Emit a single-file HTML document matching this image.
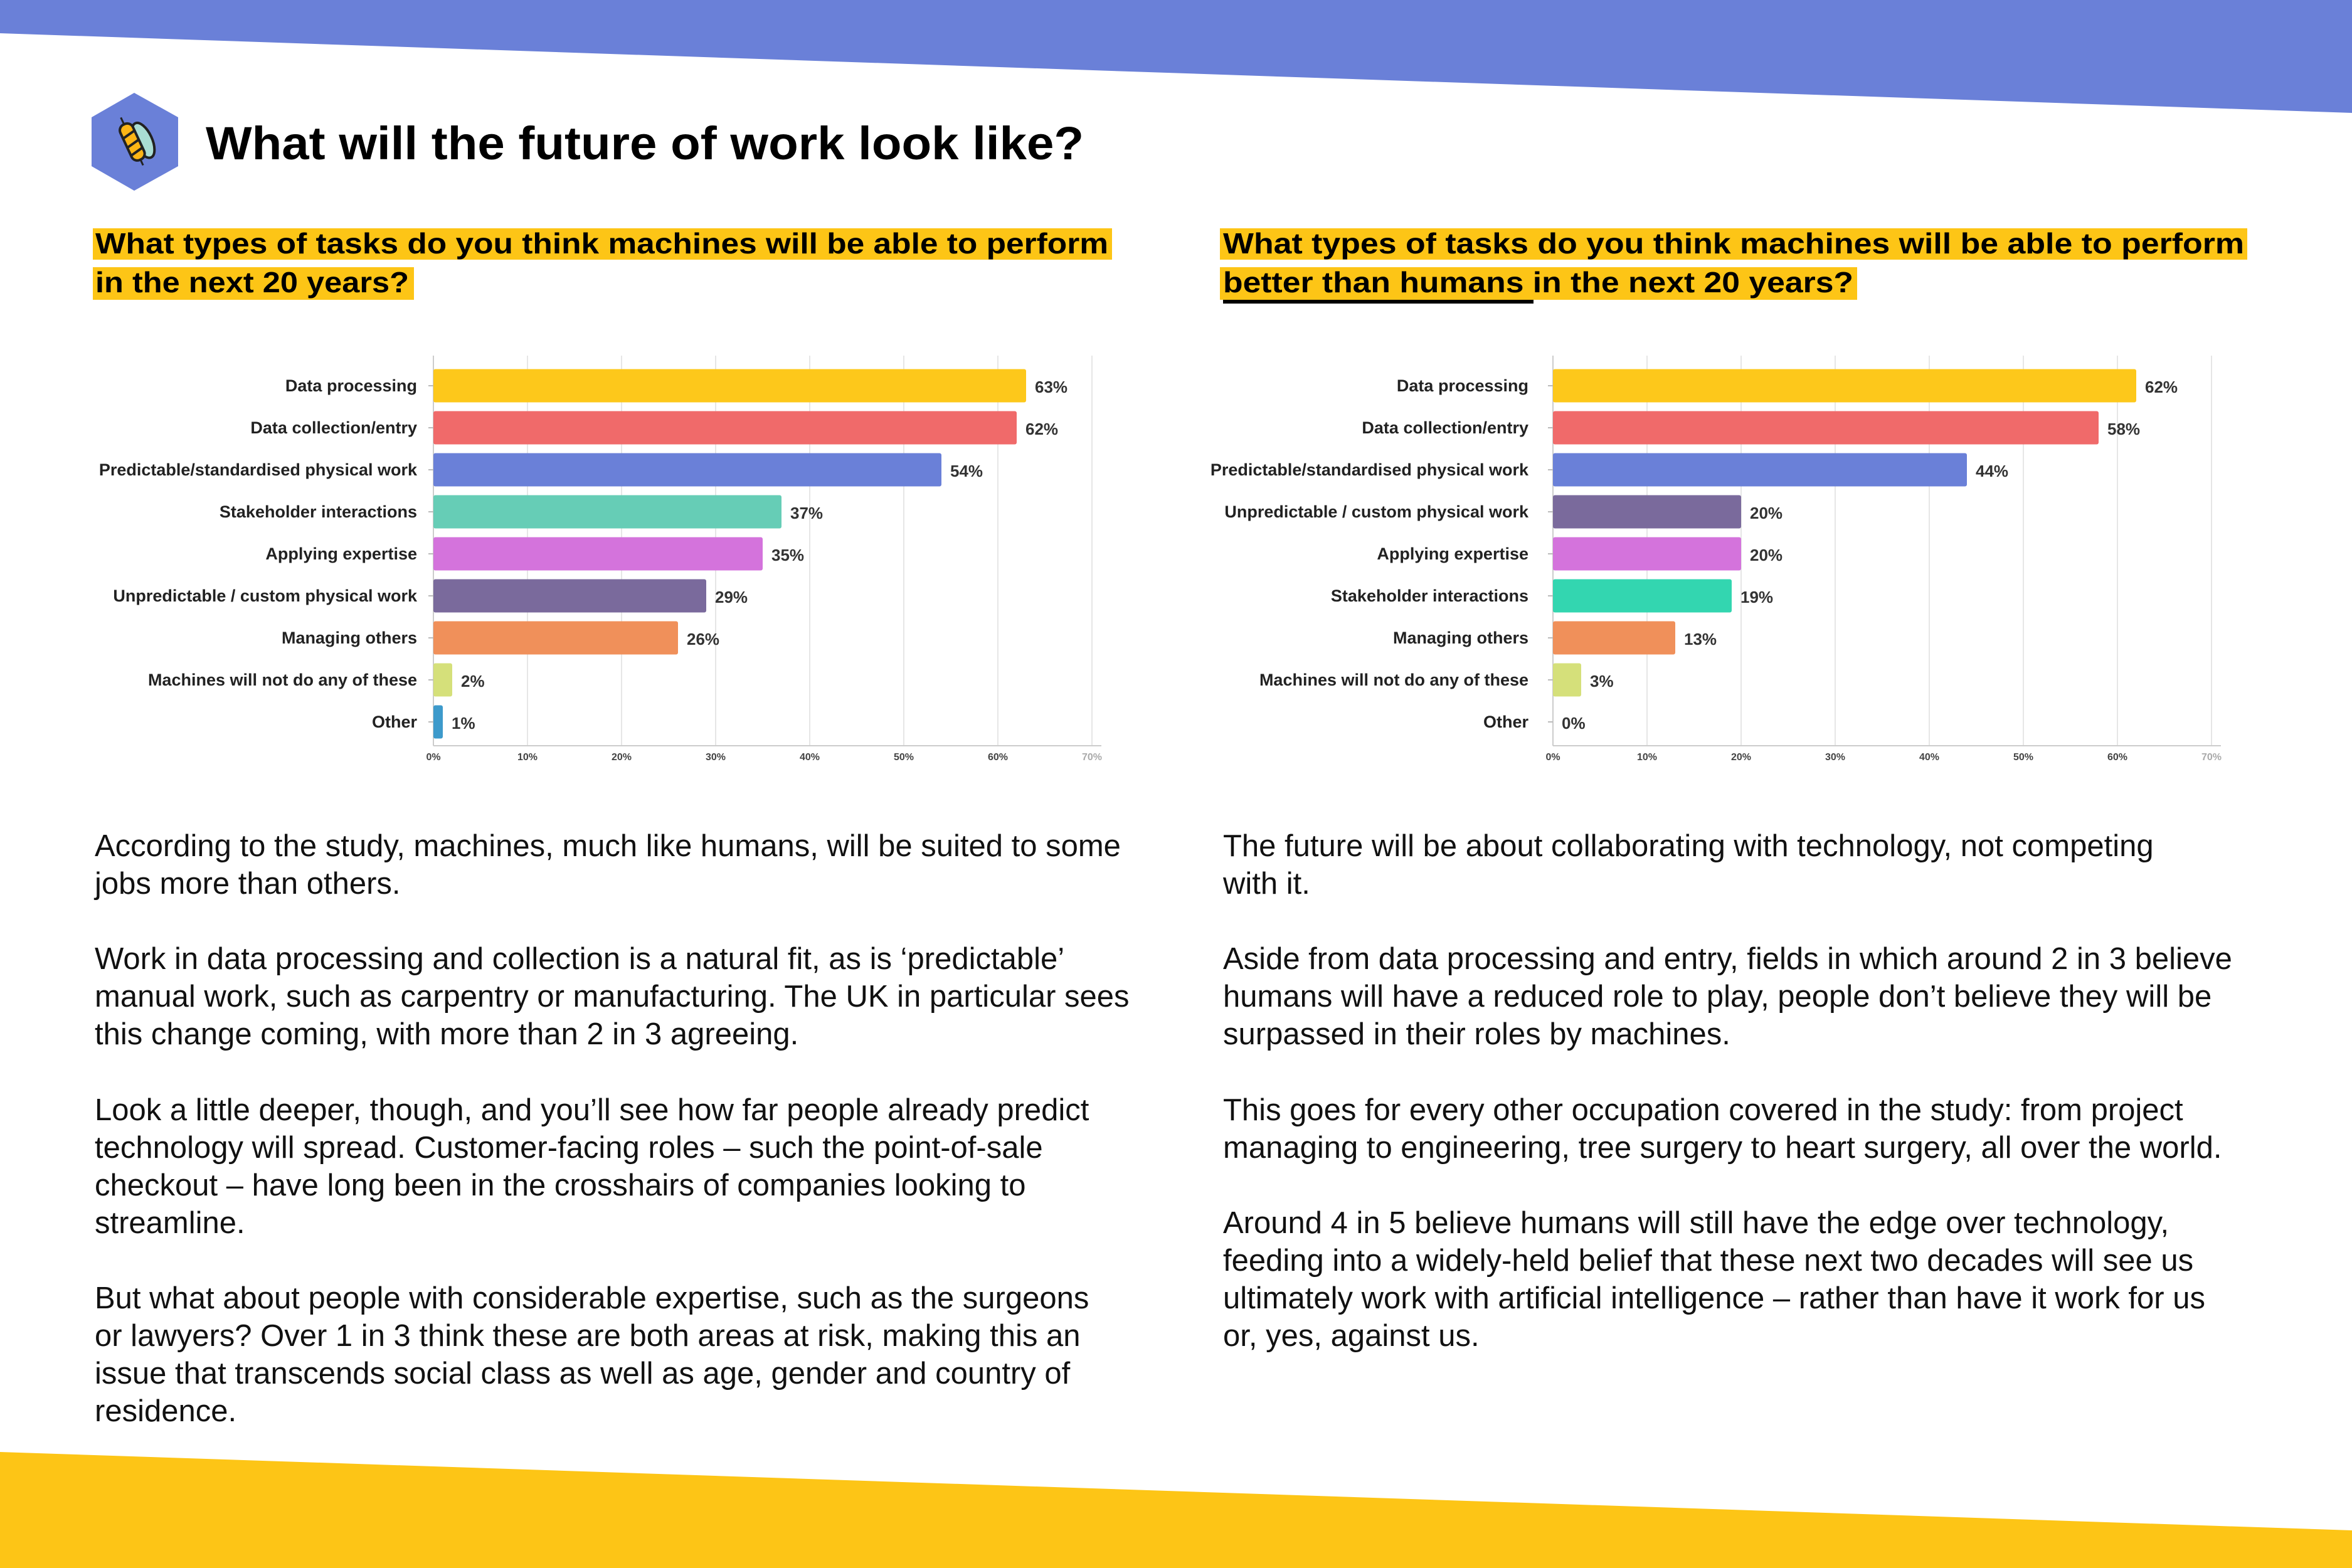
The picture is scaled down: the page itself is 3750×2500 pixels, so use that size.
<!DOCTYPE html>
<html>
<head>
<meta charset="utf-8">
<style>
html,body{margin:0;padding:0;background:#fff;}
svg{display:block;}
text{font-family:"Liberation Sans",sans-serif;}
</style>
</head>
<body>
<svg id="page" width="3750" height="2500" viewBox="0 0 3750 2500" xmlns="http://www.w3.org/2000/svg">
  <polygon points="0,0 3750,0 3750,180 0,53" fill="#6A80D8"/>
  <polygon points="0,2315 3750,2440 3750,2500 0,2500" fill="#FDC516"/>

  <g>
    <polygon points="214,148 284,187 284,265 214,304 146,265 146,187" fill="#6A80D8"/>
    <g transform="translate(214,226) rotate(-25)">
      <ellipse cx="14" cy="4" rx="14" ry="30" fill="#A9DDD3" stroke="#222" stroke-width="4"/>
      <rect x="-14" y="-32" width="22" height="62" rx="10" fill="#FDB515" stroke="#222" stroke-width="4"/>
      <line x1="-14" y1="-12" x2="8" y2="-16" stroke="#222" stroke-width="4"/>
      <line x1="-14" y1="4" x2="8" y2="0" stroke="#222" stroke-width="4"/>
      <line x1="-14" y1="18" x2="8" y2="14" stroke="#222" stroke-width="4"/>
      <line x1="-3" y1="-32" x2="-3" y2="-44" stroke="#222" stroke-width="3"/>
      <line x1="-3" y1="30" x2="-3" y2="40" stroke="#222" stroke-width="3"/>
    </g>
  </g>

  <text x="328" y="254" font-size="74" font-weight="bold" fill="#000" textLength="1400" lengthAdjust="spacingAndGlyphs">What will the future of work look like?</text>

  <g>
    <rect x="148" y="364" width="1625" height="50" fill="#FDC516"/>
    <rect x="148" y="426" width="512" height="52" fill="#FDC516"/>
    <text x="152" y="404" font-size="46" font-weight="bold" textLength="1615" lengthAdjust="spacingAndGlyphs">What types of tasks do you think machines will be able to perform</text>
    <text x="152" y="466" font-size="46" font-weight="bold" textLength="500" lengthAdjust="spacingAndGlyphs">in the next 20 years?</text>
  </g>
  <g>
    <rect x="1945" y="364" width="1638" height="50" fill="#FDC516"/>
    <rect x="1945" y="426" width="1016" height="52" fill="#FDC516"/>
    <text x="1950" y="404" font-size="46" font-weight="bold" textLength="1628" lengthAdjust="spacingAndGlyphs">What types of tasks do you think machines will be able to perform</text>
    <text x="1950" y="466" font-size="46" font-weight="bold" textLength="1005" lengthAdjust="spacingAndGlyphs">better than humans in the next 20 years?</text>
    <rect x="1950" y="478" width="495" height="6" fill="#000"/>
  </g>

  <g id="chartL"></g>
  <g id="chartR"></g>

  <g font-size="49" fill="#111">
    <text x="151" y="1365">According to the study, machines, much like humans, will be suited to some</text>
    <text x="151" y="1425">jobs more than others.</text>
    <text x="151" y="1545">Work in data processing and collection is a natural fit, as is ‘predictable’</text>
    <text x="151" y="1605">manual work, such as carpentry or manufacturing. The UK in particular sees</text>
    <text x="151" y="1665">this change coming, with more than 2 in 3 agreeing.</text>
    <text x="151" y="1786">Look a little deeper, though, and you’ll see how far people already predict</text>
    <text x="151" y="1846">technology will spread. Customer-facing roles – such the point-of-sale</text>
    <text x="151" y="1906">checkout – have long been in the crosshairs of companies looking to</text>
    <text x="151" y="1966">streamline.</text>
    <text x="151" y="2086">But what about people with considerable expertise, such as the surgeons</text>
    <text x="151" y="2146">or lawyers? Over 1 in 3 think these are both areas at risk, making this an</text>
    <text x="151" y="2206">issue that transcends social class as well as age, gender and country of</text>
    <text x="151" y="2266">residence.</text>
  </g>
  <g font-size="49" fill="#111">
    <text x="1950" y="1365">The future will be about collaborating with technology, not competing</text>
    <text x="1950" y="1425">with it.</text>
    <text x="1950" y="1545">Aside from data processing and entry, fields in which around 2 in 3 believe</text>
    <text x="1950" y="1605">humans will have a reduced role to play, people don’t believe they will be</text>
    <text x="1950" y="1665">surpassed in their roles by machines.</text>
    <text x="1950" y="1786">This goes for every other occupation covered in the study: from project</text>
    <text x="1950" y="1846">managing to engineering, tree surgery to heart surgery, all over the world.</text>
    <text x="1950" y="1966">Around 4 in 5 believe humans will still have the edge over technology,</text>
    <text x="1950" y="2026">feeding into a widely-held belief that these next two decades will see us</text>
    <text x="1950" y="2086">ultimately work with artificial intelligence – rather than have it work for us</text>
    <text x="1950" y="2146">or, yes, against us.</text>
  </g>
</svg>
<script>
const leftCategories = ["Data processing","Data collection/entry","Predictable/standardised physical work","Stakeholder interactions","Applying expertise","Unpredictable / custom physical work","Managing others","Machines will not do any of these","Other"];
const leftValues = [63,62,54,37,35,29,26,2,1];
const leftColors = ["#FDC81B","#F06A6A","#6A80D8","#66CDB6","#D473DC","#7A6A9C","#F0905A","#D5E07A","#3D9ACB"];
const rightCategories = ["Data processing","Data collection/entry","Predictable/standardised physical work","Unpredictable / custom physical work","Applying expertise","Stakeholder interactions","Managing others","Machines will not do any of these","Other"];
const rightValues = [62,58,44,20,20,19,13,3,0];
const rightColors = ["#FDC81B","#F06A6A","#6A80D8","#7A6A9C","#D473DC","#33D6B0","#F0905A","#D5E07A","#3D9ACB"];
const tickValues = [0,10,20,30,40,50,60,70];
const tickLabels = ["0%","10%","20%","30%","40%","50%","60%","70%"];

const NS = "http://www.w3.org/2000/svg";
function mk(tag, attrs, parent){
  const e = document.createElementNS(NS, tag);
  for (const k in attrs) e.setAttribute(k, attrs[k]);
  parent.appendChild(e);
  return e;
}
function drawChart(g, x0, labelGap, cats, vals, cols){
  const top = 567, bottom = 1189, unit = 15.0, rowY0 = 615, pitch = 67, bh = 53;
  const xs = v => x0 + v * unit;
  const ys = i => rowY0 + i * pitch;
  tickValues.forEach((t, i) => {
    const gl = mk("line", {x1: xs(t), x2: xs(t), y1: top, y2: bottom, stroke: "#E6E6E6", "stroke-width": 2}, g);
    
    
    const tl = mk("text", {x: xs(t), y: 1212, "font-size": 16, "font-weight": "bold", fill: i === tickValues.length - 1 ? "#AAA" : "#444", "text-anchor": "middle"}, g);
    tl.textContent = tickLabels[i];
    
    
  });
  const ax = mk("line", {x1: x0, x2: x0, y1: top, y2: bottom, stroke: "#CCC", "stroke-width": 2}, g);
  
  
  const bx = mk("line", {x1: x0, x2: xs(71), y1: bottom, y2: bottom, stroke: "#CCC", "stroke-width": 2}, g);
  
  
  cats.forEach((c, i) => {
    const cy = ys(i);
    const tk = mk("line", {x1: x0 - 8, x2: x0, y1: cy, y2: cy, stroke: "#BBB", "stroke-width": 2}, g);
    
    
    const lb = mk("text", {x: x0 - labelGap, y: cy + 9, "font-size": 27, "font-weight": "bold", fill: "#222", "text-anchor": "end"}, g);
    lb.textContent = c;
    
    
    const w = Math.max(0, xs(vals[i]) - x0);
    const bar = mk("rect", {x: x0, y: cy - bh / 2, width: w, height: bh, rx: 3, fill: cols[i]}, g);
    
    
    const vl = mk("text", {x: xs(vals[i]) + 14, y: cy + 11, "font-size": 26, "font-weight": "bold", fill: "#333"}, g);
    vl.textContent = vals[i] + "%";
    
    
  });
}
drawChart(document.getElementById("chartL"), 691, 26, leftCategories, leftValues, leftColors);
drawChart(document.getElementById("chartR"), 2476, 39, rightCategories, rightValues, rightColors);
</script>
</body>
</html>
